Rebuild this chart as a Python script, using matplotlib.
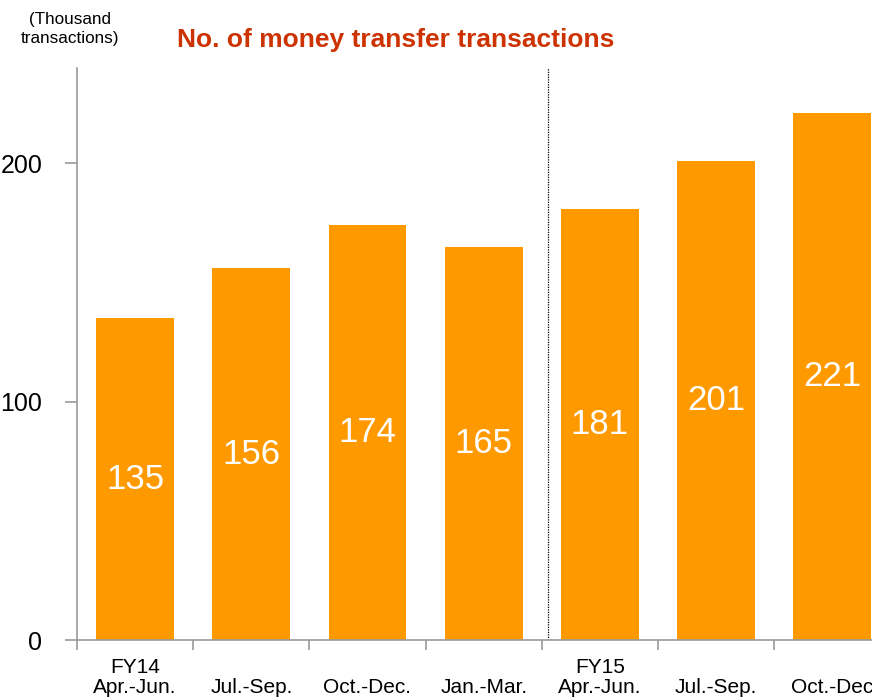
import matplotlib
matplotlib.use('Agg')
import matplotlib.pyplot as plt

plt.rcParams['font.family'] = ['Liberation Sans', 'DejaVu Sans']

quarters = ['FY14\nApr.-Jun.', '\nJul.-Sep.', '\nOct.-Dec.', '\nJan.-Mar.',
            'FY15\nApr.-Jun.', '\nJul.-Sep.', '\nOct.-Dec']
transactions = [135, 156, 174, 165, 181, 201, 221]

fig = plt.figure(figsize=(8.72, 7.0), dpi=100)
ax = fig.add_axes([77 / 872, 60 / 700, 813.4 / 872, 572 / 700])

x = list(range(len(transactions)))
ax.bar(x, transactions, width=0.67, color='#FF9900', zorder=2)

for xi, v in zip(x, transactions):
    ax.text(xi, v / 2, str(v), ha='center', va='center', color='white', fontsize=25)

# divider between fiscal years
ax.axvline(3.55, color='black', linestyle=(0, (1, 1)), linewidth=0.9, zorder=1)

ax.set_xlim(-0.5, 6.5)
ax.set_ylim(0, 240)
ax.set_yticks([0, 100, 200])
ax.tick_params(axis='y', labelsize=18, length=9, color='#999999', width=1.2, pad=16)

ax.set_xticks(x)
ax.set_xticklabels(quarters, fontsize=15, linespacing=1.08)
ax.set_xticks([i - 0.5 for i in range(len(transactions) + 1)], minor=True)
ax.tick_params(axis='x', which='major', length=0, pad=13)
ax.tick_params(axis='x', which='minor', length=7, color='#999999', width=1.2)

for s in ['top', 'right']:
    ax.spines[s].set_visible(False)
for s in ['left', 'bottom']:
    ax.spines[s].set_color('#999999')
    ax.spines[s].set_linewidth(1.2)

fig.text(396 / 872, 1 - 40 / 700, 'No. of money transfer transactions', ha='center', va='center',
         fontsize=19, fontweight='bold', color='#CC3300')
fig.text(70 / 872, 1 - 29 / 700, '(Thousand\ntransactions)', ha='center', va='center',
         fontsize=12.3, linespacing=1.3)

fig.savefig('out.png', dpi=100)
